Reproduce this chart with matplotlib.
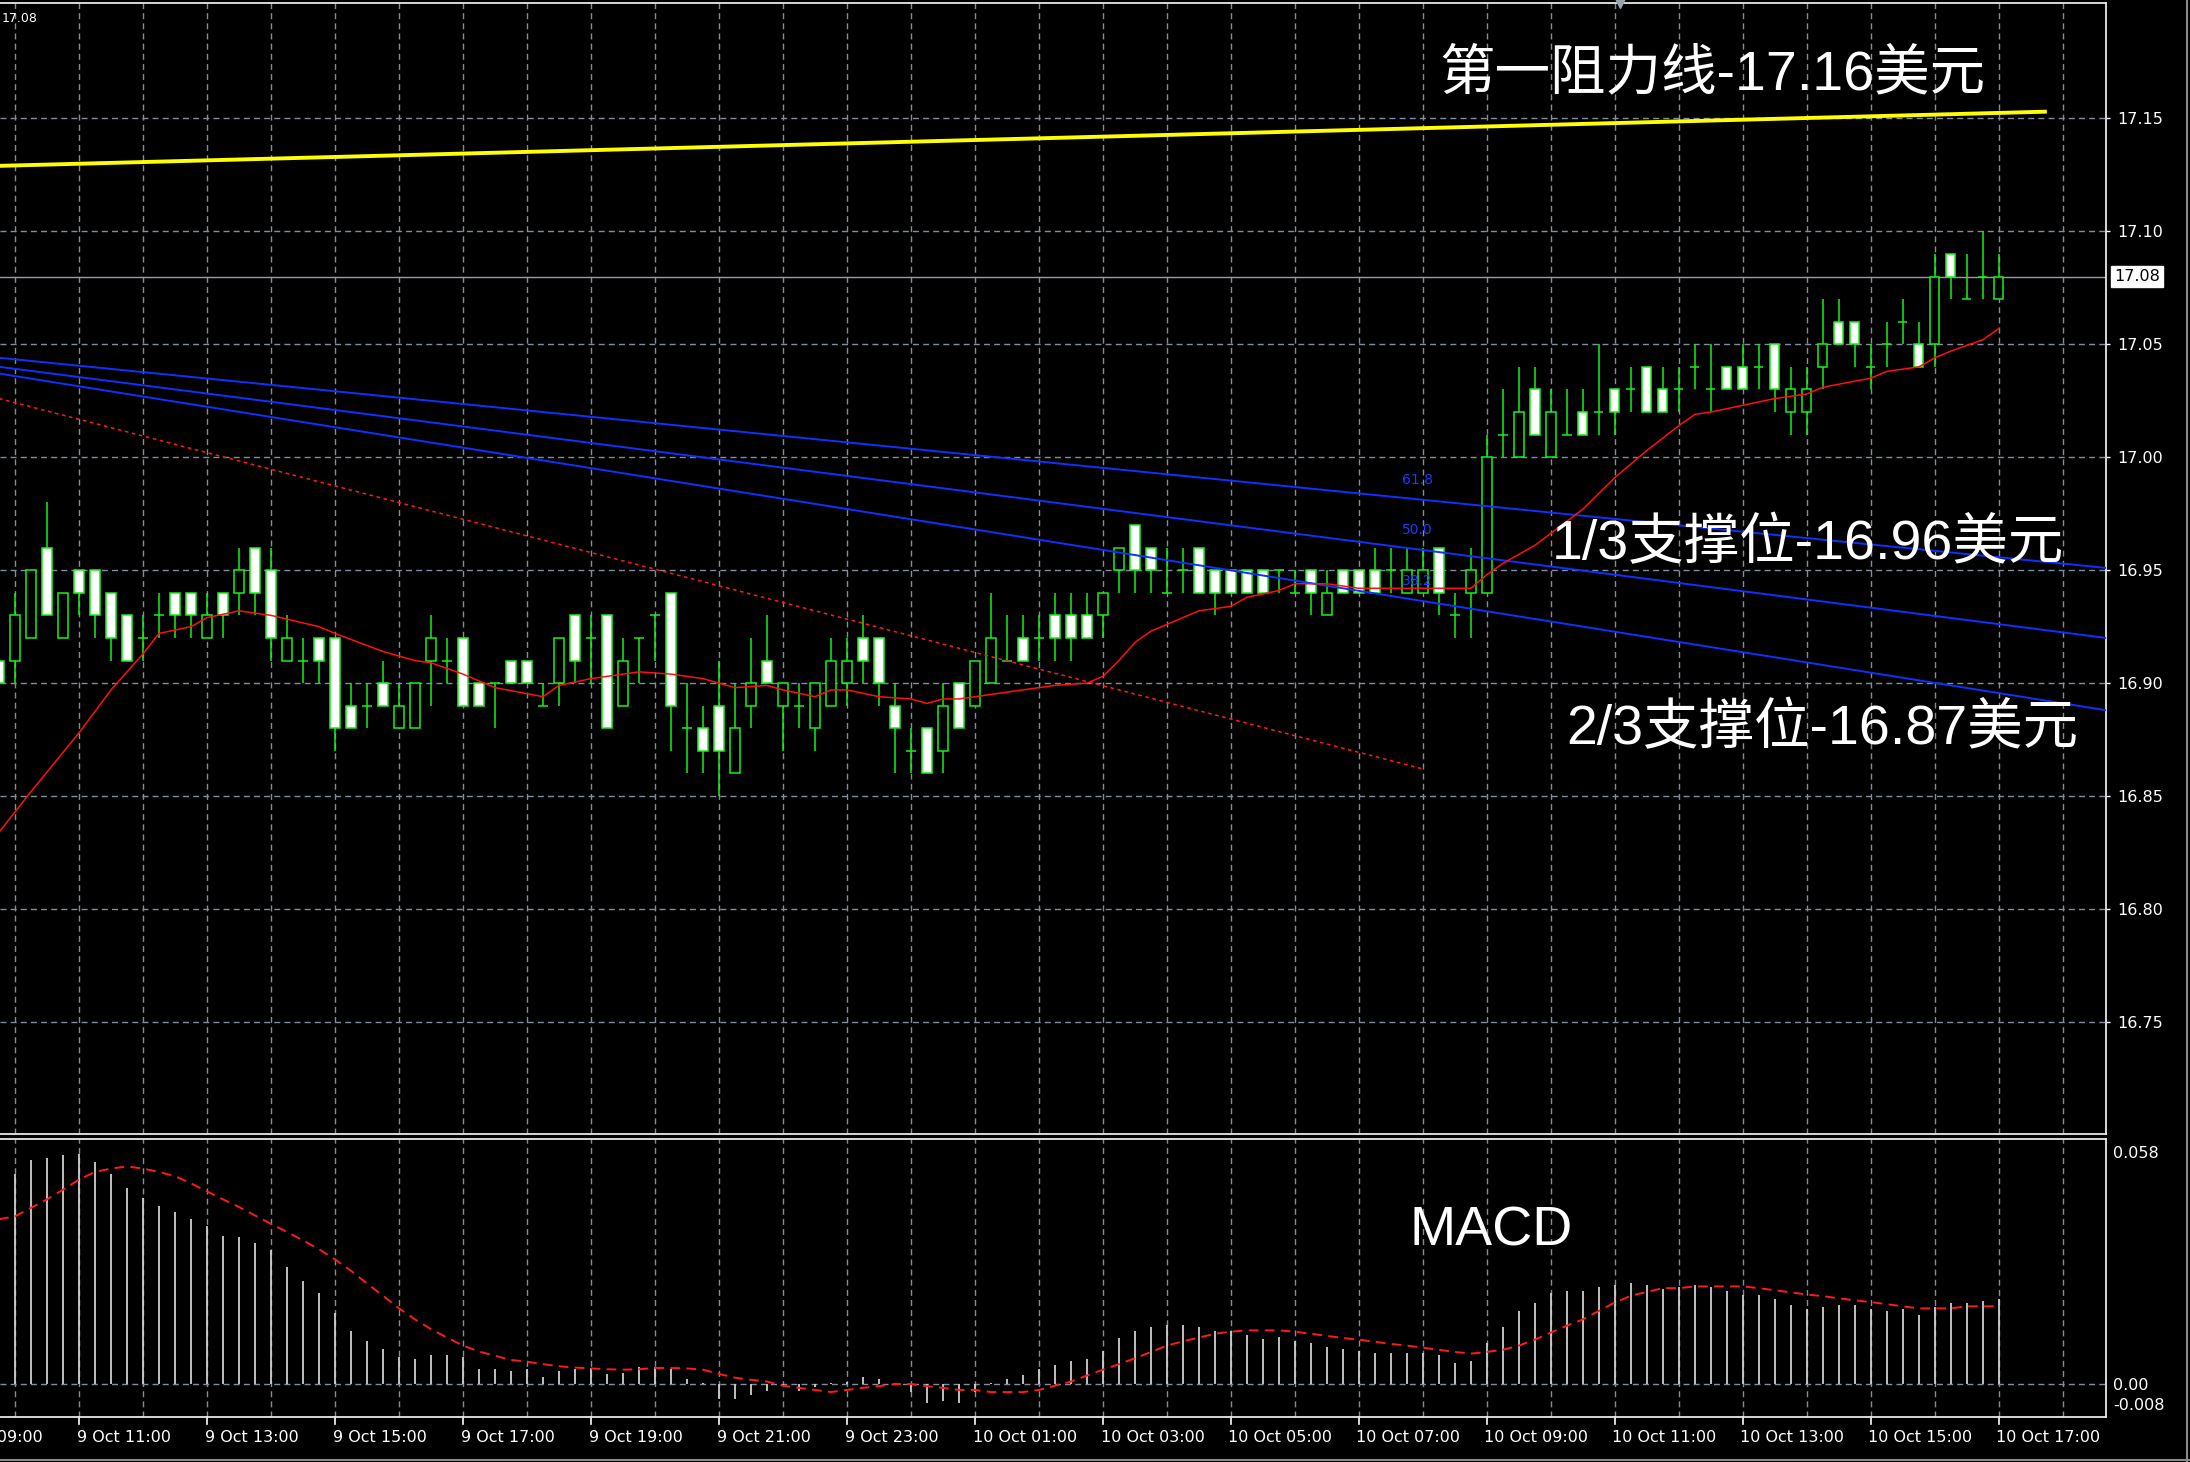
import matplotlib
matplotlib.use("Agg")
import matplotlib.pyplot as plt
from matplotlib.patches import Rectangle
from matplotlib.transforms import blended_transform_factory
from matplotlib.lines import Line2D

plt.rcParams['lines.scale_dashes'] = False

# ---------------- data (M15 candles, index 0 = 9 Oct 09:45) ----------------
opens = [16.91,16.91,16.92,16.96,16.92,16.95,16.95,16.94,16.93,16.92,16.93,16.94,16.94,16.92,16.94,16.94,
         16.96,16.95,16.91,16.91,16.92,16.92,16.89,16.89,16.90,16.88,16.88,16.91,16.91,16.92,16.90,16.90,
         16.91,16.91,16.89,16.90,16.93,16.92,16.93,16.89,16.92,16.93,16.94,16.88,16.88,16.89,16.86,16.89,
         16.91,16.89,16.89,16.88,16.89,16.90,16.92,16.92,16.89,16.87,16.88,16.87,16.90,16.89,16.90,16.91,
         16.92,16.92,16.93,16.93,16.93,16.93,16.95,16.97,16.96,16.94,16.95,16.96,16.95,16.95,16.95,16.95,
         16.95,16.94,16.95,16.93,16.95,16.95,16.95,16.95,16.94,16.94,16.96,16.93,16.94,16.94,17.01,17.00,
         17.03,17.00,17.01,17.02,17.02,17.03,17.03,17.04,17.03,17.03,17.04,17.03,17.04,17.04,17.04,17.05,
         17.02,17.02,17.04,17.06,17.06,17.04,17.05,17.06,17.05,17.05,17.09,17.07,17.08,17.07]
highs = [16.91,16.94,16.95,16.98,16.94,16.95,16.95,16.94,16.93,16.93,16.94,16.94,16.94,16.94,16.94,16.96,
         16.96,16.96,16.93,16.92,16.92,16.92,16.90,16.90,16.91,16.90,16.90,16.93,16.92,16.92,16.90,16.90,
         16.91,16.91,16.90,16.92,16.93,16.93,16.93,16.92,16.92,16.93,16.94,16.90,16.89,16.91,16.90,16.92,
         16.93,16.90,16.90,16.90,16.92,16.92,16.93,16.92,16.90,16.88,16.88,16.90,16.90,16.91,16.94,16.93,
         16.93,16.93,16.94,16.94,16.94,16.94,16.96,16.97,16.96,16.96,16.96,16.96,16.95,16.95,16.95,16.95,
         16.95,16.95,16.95,16.95,16.95,16.95,16.96,16.96,16.96,16.96,16.96,16.94,16.96,17.01,17.03,17.04,
         17.04,17.03,17.03,17.03,17.05,17.03,17.04,17.04,17.04,17.04,17.05,17.05,17.04,17.05,17.05,17.05,
         17.04,17.04,17.07,17.07,17.06,17.05,17.06,17.07,17.06,17.09,17.09,17.09,17.10,17.09]
lows = [16.88,16.90,16.92,16.93,16.92,16.93,16.92,16.91,16.91,16.91,16.92,16.92,16.92,16.92,16.92,16.93,
        16.93,16.91,16.91,16.90,16.90,16.87,16.88,16.88,16.89,16.88,16.88,16.89,16.90,16.89,16.89,16.88,
        16.90,16.90,16.89,16.89,16.90,16.90,16.88,16.89,16.90,16.91,16.87,16.86,16.86,16.85,16.86,16.88,
        16.90,16.87,16.88,16.87,16.89,16.89,16.90,16.89,16.86,16.86,16.86,16.86,16.88,16.89,16.90,16.91,
        16.91,16.91,16.91,16.91,16.92,16.92,16.94,16.94,16.94,16.94,16.94,16.94,16.93,16.94,16.94,16.94,
        16.94,16.94,16.93,16.93,16.94,16.94,16.94,16.94,16.94,16.94,16.93,16.92,16.92,16.94,17.00,17.00,
        17.01,17.00,17.01,17.01,17.01,17.01,17.02,17.02,17.02,17.02,17.03,17.02,17.03,17.03,17.03,17.02,
        17.01,17.01,17.03,17.05,17.04,17.03,17.04,17.05,17.04,17.04,17.07,17.07,17.07,17.07]
closes = [16.90,16.93,16.95,16.93,16.94,16.94,16.93,16.92,16.91,16.92,16.93,16.93,16.93,16.93,16.93,16.95,
          16.94,16.92,16.92,16.91,16.91,16.88,16.88,16.89,16.89,16.89,16.90,16.92,16.91,16.89,16.89,16.90,
          16.90,16.90,16.89,16.92,16.91,16.92,16.88,16.91,16.92,16.93,16.89,16.88,16.87,16.87,16.88,16.90,
          16.90,16.90,16.89,16.90,16.91,16.91,16.91,16.90,16.88,16.87,16.86,16.89,16.88,16.91,16.92,16.91,
          16.91,16.92,16.92,16.92,16.92,16.94,16.96,16.95,16.95,16.94,16.95,16.94,16.94,16.94,16.94,16.94,
          16.95,16.94,16.94,16.94,16.94,16.94,16.94,16.95,16.95,16.95,16.94,16.93,16.95,17.00,17.01,17.02,
          17.01,17.02,17.01,17.01,17.02,17.02,17.03,17.02,17.02,17.03,17.04,17.03,17.03,17.03,17.04,17.03,
          17.03,17.03,17.05,17.05,17.05,17.04,17.05,17.06,17.04,17.08,17.08,17.07,17.08,17.08]

# moving average (red solid) read at candle indices
ma_idx = [0, 2, 5, 7, 9, 10, 12, 13, 15, 17, 20, 21, 24, 26, 27, 29, 31, 34, 35, 37, 40, 42, 44, 45, 46,
          48, 49, 51, 52, 53, 55, 57, 58, 59, 60, 62, 64, 66, 68, 69, 70, 71, 72, 74, 75, 77, 78, 80, 81,
          83, 85, 92, 93, 94, 96, 99, 101, 103, 105, 106, 107, 109, 111, 113, 114, 117, 118, 120, 121, 122,
          124, 125]
ma_val = [16.834, 16.852, 16.878, 16.897, 16.913, 16.922, 16.925, 16.929, 16.932, 16.930, 16.925, 16.922,
          16.914, 16.910, 16.909, 16.904, 16.898, 16.894, 16.899, 16.902, 16.905, 16.904, 16.902, 16.900,
          16.898, 16.899, 16.897, 16.894, 16.897, 16.897, 16.894, 16.893, 16.891, 16.893, 16.893, 16.895,
          16.897, 16.899, 16.900, 16.903, 16.910, 16.918, 16.923, 16.929, 16.932, 16.934, 16.938, 16.941,
          16.944, 16.944, 16.942, 16.942, 16.948, 16.953, 16.961, 16.977, 16.991, 17.003, 17.014, 17.019,
          17.020, 17.023, 17.026, 17.028, 17.031, 17.035, 17.038, 17.040, 17.044, 17.047, 17.052, 17.057]

# drawn objects
yellow_x, yellow_y = [0, 128], [17.129, 17.153]
red_trend_x, red_trend_y = [0, 89], [17.026, 16.862]
fan_x = [0.06, 131.7]
fan_lines = {"61.8": [17.044, 16.951], "50.0": [17.040, 16.920], "38.2": [17.037, 16.888]}
fan_label_y = {"61.8": 16.990, "50.0": 16.968, "38.2": 16.945}
bid_price = 17.08

# MACD
macd_hist = [0.0464,0.0498,0.0531,0.0536,0.0541,0.0545,0.0526,0.0498,0.0464,0.0441,0.0422,0.0408,0.0390,
             0.0374,0.0351,0.0347,0.0333,0.0317,0.0276,0.0243,0.0215,0.0169,0.0125,0.0102,0.0083,0.0063,
             0.0059,0.0068,0.0068,0.0063,0.0035,0.0035,0.0031,0.0035,0.0017,0.0031,0.0035,0.0039,0.0023,
             0.0026,0.0040,0.0040,0.0035,0.0012,0.0003,-0.0035,-0.0035,-0.0026,-0.0016,-0.0004,-0.0016,
             -0.0006,0.0002,0.0004,0.0016,0.0012,0.0002,-0.0020,-0.0045,-0.0039,-0.0045,-0.0020,0.0002,
             0.0012,0.0021,0.0035,0.0045,0.0054,0.0059,0.0079,0.0110,0.0125,0.0135,0.0140,0.0139,0.0135,
             0.0125,0.0125,0.0116,0.0106,0.0111,0.0102,0.0097,0.0087,0.0083,0.0079,0.0073,0.0073,0.0073,
             0.0073,0.0068,0.0050,0.0054,0.0097,0.0135,0.0172,0.0191,0.0215,0.0220,0.0220,0.0229,0.0234,
             0.0238,0.0234,0.0224,0.0229,0.0234,0.0229,0.0220,0.0210,0.0210,0.0201,0.0187,0.0177,0.0182,
             0.0187,0.0187,0.0177,0.0172,0.0177,0.0163,0.0182,0.0191,0.0191,0.0196,0.0201]
macd_signal = [0.0390,0.0397,0.0417,0.0437,0.0460,0.0484,0.0502,0.0510,0.0515,0.0510,0.0502,0.0492,0.0475,
               0.0456,0.0437,0.0419,0.0399,0.0379,0.0360,0.0340,0.0319,0.0295,0.0268,0.0238,0.0209,0.0179,
               0.0153,0.0130,0.0110,0.0091,0.0077,0.0067,0.0057,0.0053,0.0047,0.0042,0.0039,0.0037,0.0035,
               0.0034,0.0035,0.0038,0.0038,0.0037,0.0034,0.0024,0.0015,0.0010,0.0006,-0.0004,-0.0009,-0.0014,
               -0.0019,-0.0014,-0.0009,-0.0005,0.0000,0.0000,-0.0005,-0.0009,-0.0014,-0.0014,-0.0019,-0.0019,
               -0.0019,-0.0014,-0.0004,0.0006,0.0020,0.0034,0.0047,0.0061,0.0076,0.0091,0.0101,0.0110,0.0119,
               0.0124,0.0127,0.0127,0.0127,0.0124,0.0119,0.0114,0.0109,0.0105,0.0100,0.0095,0.0091,0.0086,
               0.0081,0.0076,0.0072,0.0076,0.0081,0.0091,0.0105,0.0122,0.0138,0.0153,0.0173,0.0193,0.0209,
               0.0218,0.0227,0.0227,0.0231,0.0231,0.0231,0.0231,0.0227,0.0222,0.0217,0.0212,0.0208,0.0203,
               0.0198,0.0194,0.0189,0.0184,0.0179,0.0179,0.0179,0.0184,0.0184,0.0184]

price_ticks = [16.75, 16.80, 16.85, 16.90, 16.95, 17.00, 17.05, 17.10, 17.15]
time_tick_idx = [-3, 5, 13, 21, 29, 37, 45, 53, 61, 69, 77, 85, 93, 101, 109, 117, 125]
time_tick_labels = ["9 Oct 09:00", "9 Oct 11:00", "9 Oct 13:00", "9 Oct 15:00", "9 Oct 17:00",
                    "9 Oct 19:00", "9 Oct 21:00", "9 Oct 23:00", "10 Oct 01:00", "10 Oct 03:00",
                    "10 Oct 05:00", "10 Oct 07:00", "10 Oct 09:00", "10 Oct 11:00", "10 Oct 13:00",
                    "10 Oct 15:00", "10 Oct 17:00"]
hour_grid_idx = list(range(1, 130, 4))

annotations = [("第一阻力线-17.16美元", 1439, 75), ("1/3支撑位-16.96美元", 1552, 545),
               ("2/3支撑位-16.87美元", 1566, 730), ("MACD", 1409, 1231)]

# ---------------- layout ----------------
W, H = 2190, 1462
def fx(px): return px / W
def fy(py): return 1 - py / H

fig = plt.figure(figsize=(W / 100, H / 100), dpi=100, facecolor="black")
ax = fig.add_axes([0, fy(1134), 2106 / W, (1134 - 3) / H], facecolor="black")
axm = fig.add_axes([0, fy(1417), 2106 / W, (1417 - 1139) / H], facecolor="black")

XMIN, XMAX = 0.06, 131.7
GRID = "#7f8f9f"
GREEN = "#19f019"
WHITE = "#ffffff"
TICKFONT = 11.5

for a in (ax, axm):
    a.set_xlim(XMIN, XMAX)
    for s in ("top", "right", "bottom"):
        a.spines[s].set_color("#e8e8e8")
        a.spines[s].set_linewidth(1.3)
    a.spines["left"].set_visible(False)
    a.set_xticks([])
    for gx in hour_grid_idx:
        a.axvline(gx, color=GRID, lw=1.0, dashes=(4.3, 3.0), zorder=0.5)

ax.set_ylim(16.7004, 17.2011)
axm.set_ylim(-0.0078, 0.058)

# horizontal grid on price panel
for p in price_ticks:
    ax.axhline(p, color=GRID, lw=1.0, dashes=(4.3, 3.0), zorder=0.5)
axm.axhline(0, color=GRID, lw=1.0, dashes=(4.3, 3.0), zorder=0.5)

# right price axis
ax.yaxis.tick_right()
ax.set_yticks(price_ticks)
ax.set_yticklabels([f"{p:.2f}" for p in price_ticks])
ax.tick_params(axis="y", colors=WHITE, labelcolor=WHITE, length=3, width=1, pad=5, labelsize=TICKFONT)
for t in ax.get_yticklabels():
    t.set_family("DejaVu Sans")
axm.set_yticks([])

# bid line
ax.axhline(bid_price, color="#8f9eae", lw=1.0, zorder=1)
tb = blended_transform_factory(ax.transAxes, ax.transData)
ax.text(1.004, bid_price, f"{bid_price:.2f}", transform=tb, ha="left", va="center", fontsize=TICKFONT,
        color="black", family="DejaVu Sans",
        bbox=dict(facecolor="white", edgecolor="white", boxstyle="square,pad=0.2"), clip_on=False)

# candles
bw = 0.58
for i, (o, h, l, c) in enumerate(zip(opens, highs, lows, closes)):
    ax.plot([i, i], [l, h], color=GREEN, lw=1.1, zorder=2, solid_capstyle="butt")
    if abs(c - o) < 1e-9:
        ax.plot([i - bw / 2, i + bw / 2], [o, o], color=GREEN, lw=1.1, zorder=3, solid_capstyle="butt")
    else:
        fc = "white" if c < o else "black"
        ax.add_patch(Rectangle((i - bw / 2, min(o, c)), bw, abs(c - o), facecolor=fc,
                               edgecolor=GREEN, lw=1.1, zorder=3))

# lines
ax.plot(yellow_x, yellow_y, color="#ffff00", lw=2.8, zorder=4, solid_capstyle="butt")
ax.plot(red_trend_x, red_trend_y, color="#ff1a1a", lw=1.1, dashes=(2.6, 2.6), zorder=4)
for name, ys in fan_lines.items():
    ax.plot(fan_x, ys, color="#1030ff", lw=1.4, zorder=4)
    ax.text(87.7, fan_label_y[name], name, color="#1a3cff", fontsize=10, family="DejaVu Sans",
            ha="left", va="center", zorder=5)
ax.plot(ma_idx, ma_val, color="#ff1010", lw=1.1, zorder=5)

# shift marker and small title price
ax.plot([101.3], [17.2011], marker="v", ms=7, color="#9aa4ae", clip_on=False, zorder=6)
fig.text(fx(2), fy(19), "17.08", color=WHITE, fontsize=9, family="DejaVu Sans", ha="left", va="center")

# MACD panel
xs = list(range(len(macd_hist)))
axm.vlines(xs, 0, macd_hist, color="#cfcfcf", lw=1.3, zorder=2)
axm.plot(xs, macd_signal, color="#ff1a1a", lw=1.4, dashes=(7.0, 4.5), zorder=3)
for lab, py in (("0.058", 1153), ("0.00", 1385), ("-0.008", 1405)):
    fig.text(fx(2113), fy(py), lab, color=WHITE, fontsize=TICKFONT, family="DejaVu Sans", ha="left", va="center")

# time axis
tt = blended_transform_factory(axm.transData, fig.transFigure)
for ti, lab in zip(time_tick_idx, time_tick_labels):
    axm.add_line(Line2D([ti, ti], [fy(1417), fy(1424)], transform=tt, color=WHITE, lw=1.2, clip_on=False))
    axm.text(ti - 0.15, fy(1437), lab, transform=tt, color=WHITE, fontsize=TICKFONT, family="DejaVu Sans",
             ha="left", va="center", clip_on=False)

# annotations
for s, px, py in annotations:
    fig.text(fx(px), fy(py), s, color=WHITE, fontsize=40, ha="left", va="center",
             family=["Liberation Sans", "Noto Sans CJK SC"])

# outer window frame
fig.add_artist(Line2D([fx(2187), fx(2187)], [0, 1], transform=fig.transFigure, color="#8a8a8a", lw=1.5))
fig.add_artist(Line2D([0, 1], [fy(1460), fy(1460)], transform=fig.transFigure, color="#8a8a8a", lw=1.5))

fig.savefig("out.png", dpi=100, facecolor="black")
